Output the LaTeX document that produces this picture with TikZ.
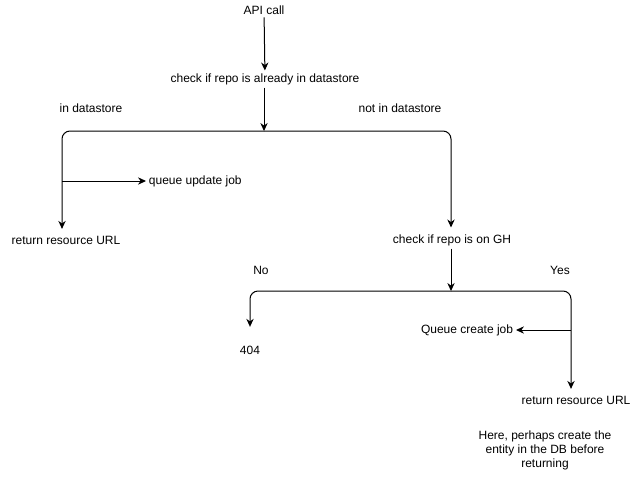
\documentclass[tikz,border=0pt]{standalone}
\usepackage{fontspec}
\setmainfont{Liberation Sans}
\usetikzlibrary{arrows.meta}

\tikzset{
    txt/.style={font=\fontsize{9}{10.5}\selectfont, inner sep=2pt, align=center},
    conn/.style={line width=0.75pt, -{Stealth[length=6pt,width=5.5pt]}},
    branch/.style={conn, rounded corners=6pt}
}

\begin{document}
\begin{tikzpicture}[x=0.75pt,y=0.75pt,yscale=-1,xscale=1]
    \useasboundingbox (0,0) rectangle (642,482);

    % Text Node
    \node[txt] (api) at (264,10) {API call};
    % Text Node
    \node[txt] (check) at (265,79) {check if repo is already in datastore};
    % Text Node
    \node[txt] (inds) at (91,108) {in datastore};
    % Text Node
    \node[txt] (notds) at (400,108) {not in datastore};
    % Text Node
    \node[txt, anchor=west] (upd) at (146,181) {queue update job};
    % Text Node
    \node[txt] (ret) at (66,240) {return resource URL};
    % Text Node
    \node[txt] (gh) at (452,240) {check if repo is on GH};
    % Text Node
    \node[txt] (no) at (261,270) {No};
    % Text Node
    \node[txt] (yes) at (560,270) {Yes};
    % Text Node
    \node[txt, anchor=east] (create) at (516,330) {Queue create job};
    % Text Node
    \node[txt] (nf) at (250,350) {404};
    % Text Node
    \node[txt] (retb) at (576,400) {return resource URL};
    % Text Node
    \node[txt] (note) at (545,450) {Here, perhaps create the\\entity in the DB before\\returning};

    % split points
    \coordinate (splitA) at (264,131);
    \coordinate (tapA) at (62,181);
    \coordinate (splitB) at (451,291);
    \coordinate (tapB) at (571,330);

    % Connection
    \draw[conn] (api) -- (check);
    % Connection
    \draw[conn] (check.south -| splitA) -- (splitA);
    % Connection
    \draw[branch] (splitA) -| ([yshift=-3pt]ret.north -| tapA);
    % Connection
    \draw[branch] (splitA) -| ([yshift=-3pt]gh.north -| 451,0);
    % Connection
    \draw[conn] (tapA) -- (upd);
    % Connection
    \draw[conn] (gh.south -| splitB) -- (splitB);
    % Connection
    \draw[branch] (splitB) -| ([yshift=-12pt]nf.north);
    % Connection
    \draw[branch] (splitB) -| ([yshift=-3pt]retb.north -| tapB);
    % Connection
    \draw[conn] (tapB) -- (create);

\end{tikzpicture}
\end{document}
